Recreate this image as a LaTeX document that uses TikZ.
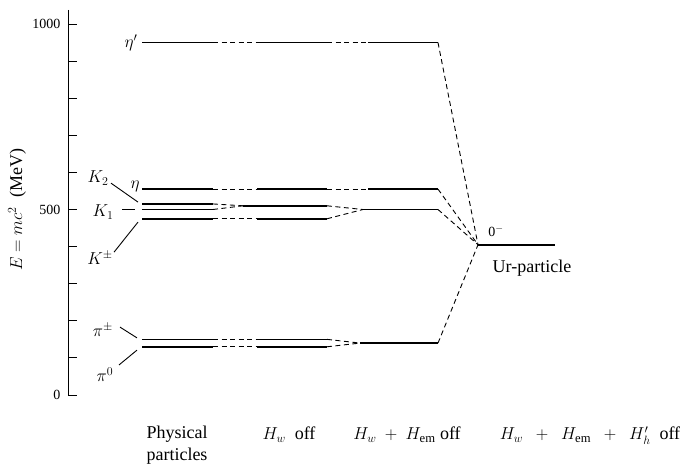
\documentclass[tikz,border=0pt]{standalone}
\usepackage{amsmath}
\usepackage{fontspec}
\setmainfont{Liberation Serif}

\begin{document}
\begin{tikzpicture}[x=1pt,y=0.371pt,
  lev/.style={line width=1.5pt},
  con/.style={dash pattern=on 5pt off 3.5pt,line width=0.9pt},
  lab/.style={font=\fontsize{18}{20}\selectfont},
  txt/.style={font=\fontsize{18}{22}\selectfont}]
\useasboundingbox (-68,-188.7) rectangle (616,1064.7);
% energy axis
\draw[line width=1pt] (0,1038) -- (0,0) -- (9,0);
\foreach \e in {100,200,...,1000}
  \draw[line width=1pt] (0,\e) -- (9,\e);
\node[anchor=east,font=\fontsize{14}{16}\selectfont] (t0) at (-4,0) {0};
\node[anchor=east,font=\fontsize{14}{16}\selectfont] (t500) at (-4,500) {500};
\node[anchor=east,font=\fontsize{14}{16}\selectfont] (t1000) at (-4,1000) {1000};
\node[txt,rotate=90] (elab) at (-51,499) {$E = mc^2$\ \ (MeV)};
% physical particles
\foreach \e in {950,555,515,500,475,150,130}
  \draw[lev] (74,\e) -- (145,\e);
% H_w off
\foreach \e in {950,555,475,150,130} {
  \draw[con] (145,\e) -- (189,\e);
  \draw[lev] (189,\e) -- (259,\e);
}
\coordinate (kz) at (175,510);
\draw[con] (145,515) -- (kz);
\draw[con] (145,500) -- (kz);
\draw[lev] (kz) -- (259,510);
% H_w + H_em off
\foreach \e in {950,555} {
  \draw[con] (259,\e) -- (300,\e);
  \draw[lev] (300,\e) -- (370,\e);
}
\coordinate (kk) at (295,500);
\coordinate (pp) at (292,140);
\draw[con] (259,510) -- (kk);
\draw[con] (259,475) -- (kk);
\draw[lev] (kk) -- (370,500);
\draw[con] (259,150) -- (pp);
\draw[con] (259,130) -- (pp);
\draw[lev] (pp) -- (370,140);
% Ur-particle
\coordinate (ur) at (410,405);
\foreach \e in {950,555,500,140}
  \draw[con] (370,\e) -- (ur);
\draw[line width=2.2pt] (ur) -- (487,405);
\node[font=\fontsize{14}{16}\selectfont] (zm) at (428,441) {0$^-$};
\node[txt] (urlab) at (464,342) {Ur-particle};
% particle labels
\node[lab] (etap) at (63,950) {$\eta'$};
\node[lab] (eta) at (67,561) {$\eta$};
\node[lab] (ktwo) at (30,585) {$K_2$};
\node[lab] (kone) at (35,493) {$K_1$};
\node[lab] (kpm) at (32,369) {$K^\pm$};
\node[lab] (pipm) at (35,175) {$\pi^\pm$};
\node[lab] (pinull) at (37,54) {$\pi^0$};
\coordinate (ktwoa) at (43,571); \coordinate (ktwob) at (70,520);
\coordinate (konea) at (54,501); \coordinate (koneb) at (67,501);
\coordinate (kpma) at (46,385); \coordinate (kpmb) at (70,466);
\coordinate (pipma) at (52,183); \coordinate (pipmb) at (69,154);
\coordinate (pinulla) at (51,81); \coordinate (pinullb) at (69,121);
\draw[line width=0.9pt] (ktwoa) -- (ktwob);
\draw[line width=0.9pt] (konea) -- (koneb);
\draw[line width=0.9pt] (kpma) -- (kpmb);
\draw[line width=0.9pt] (pipma) -- (pipmb);
\draw[line width=0.9pt] (pinulla) -- (pinullb);
% stages
\node[txt,align=center] (phys) at (109,-135) {Physical\\particles};
\node[txt,anchor=base] (hw) at (221,-120) {$H_w$\ \ off};
\node[txt,anchor=base] (hwem) at (339,-120) {$H_w\ +\ H_{\mathrm{em}}$ off};
\node[txt,anchor=base] (hwemh) at (522,-120) {$H_w\ \ +\ \ H_{\mathrm{em}}\ \ +\ \ H'_h$\ \ off};
\end{tikzpicture}
\end{document}
